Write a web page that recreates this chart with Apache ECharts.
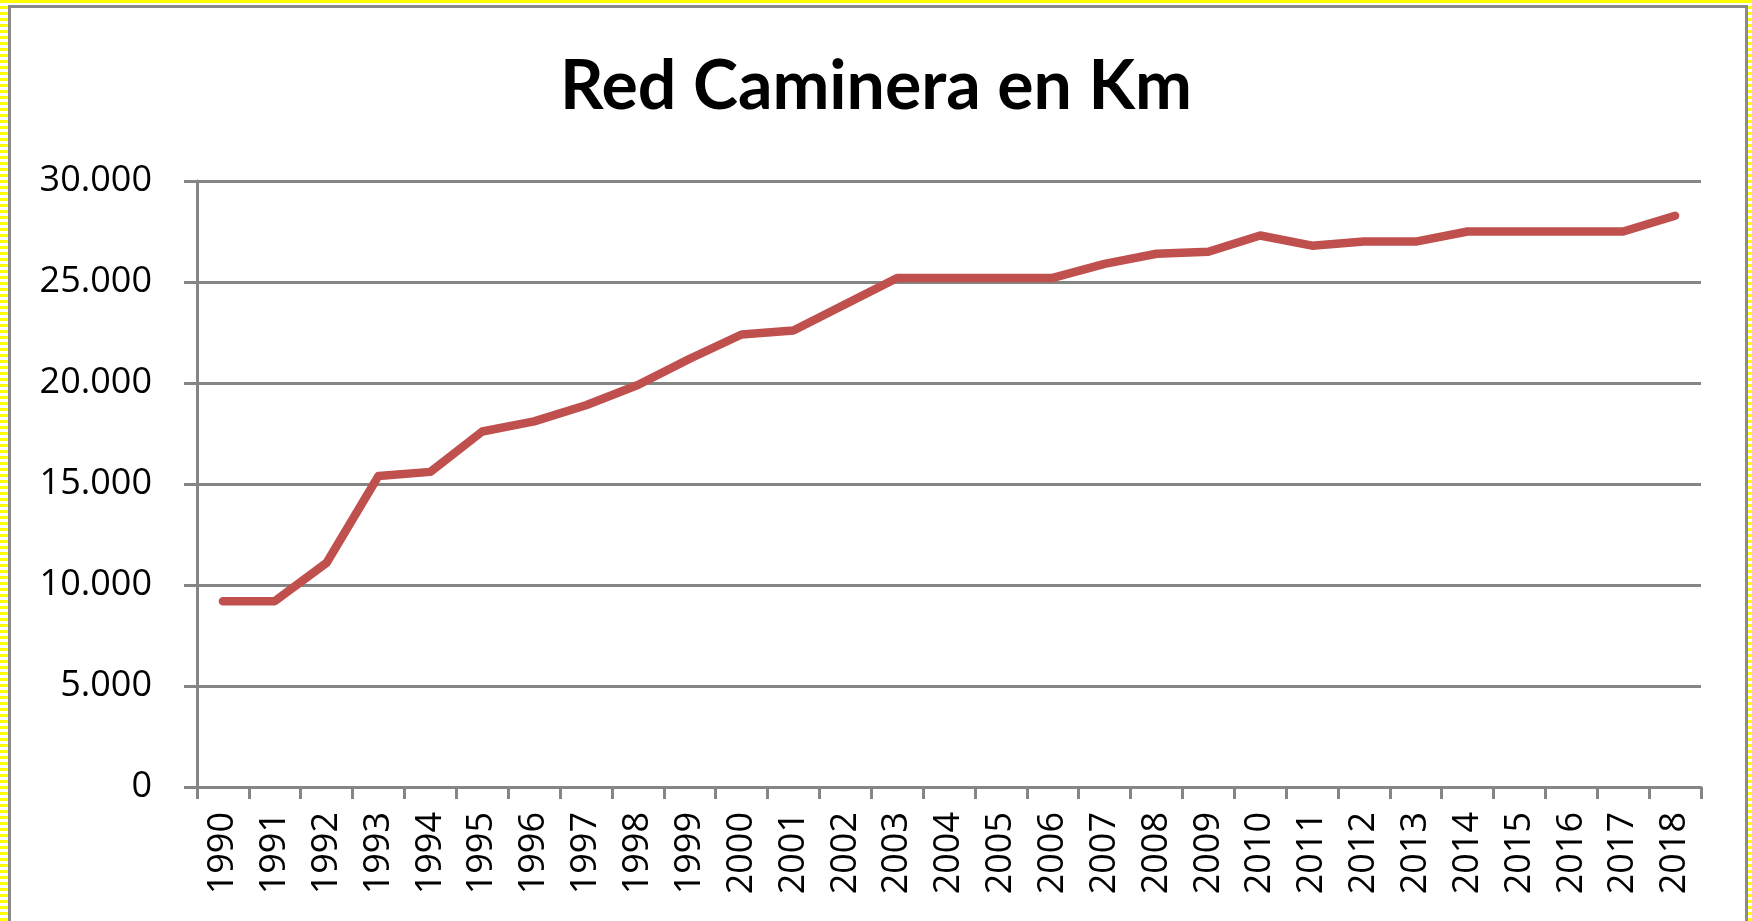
<!DOCTYPE html>
<html>
<head>
<meta charset="utf-8">
<script src="https://cdn.jsdelivr.net/npm/echarts@6/dist/echarts.min.js"></script>
<style>
    html, body{
        margin: 0;
        padding: 0;
        width: 1752px;
        height: 921px;
        overflow: hidden;
        background: repeating-linear-gradient(180deg, #ffff00 0px, #ffff00 3px, #ffffff 3px, #ffffff 6px);
    }
    .frame{
        position: absolute;
        left: 8px;
        top: 5px;
        width: 1734px;
        height: 930px;
        border: 3px solid #8a8a8a;
        background-color: white;
    }
    #chart{
        position: absolute;
        left: 0;
        top: 0;
        width: 1752px;
        height: 921px;
    }
</style>
</head>
<body>
<div class="frame"></div>
<div id="chart"></div>
<script>
    var years = ['1990', '1991', '1992', '1993', '1994', '1995', '1996', '1997', '1998', '1999',
        '2000', '2001', '2002', '2003', '2004', '2005', '2006', '2007', '2008', '2009',
        '2010', '2011', '2012', '2013', '2014', '2015', '2016', '2017', '2018'];
    var kmValues = [9200, 9200, 11100, 15400, 15600, 17600, 18100, 18900, 19900, 21200,
        22400, 22600, 23900, 25200, 25200, 25200, 25200, 25900, 26400, 26500,
        27300, 26800, 27000, 27000, 27500, 27500, 27500, 27500, 28280];
    var yTicks = [0, 5000, 10000, 15000, 20000, 25000, 30000];

    var myChart = echarts.init(document.getElementById('chart'), null, {renderer: 'canvas'});
    var gridColor = '#858585';
    var option = {
        animation: false,
        title: {
            text: 'Red Caminera en Km',
            left: 'center',
            top: 48,
            textStyle: {
                fontFamily: 'Lato',
                fontWeight: 'bold',
                fontSize: 68,
                color: '#000'
            }
        },
        grid: {
            left: 197,
            right: 51,
            top: 181,
            bottom: 134
        },
        xAxis: {
            type: 'category',
            data: years,
            boundaryGap: true,
            axisLine: {lineStyle: {color: gridColor, width: 3}},
            axisTick: {show: true, interval: 0, length: 12, lineStyle: {color: gridColor, width: 3}},
            axisLabel: {
                interval: 0,
                rotate: 90,
                margin: 25,
                fontFamily: 'Open Sans',
                fontSize: 36,
                color: '#000'
            }
        },
        yAxis: {
            type: 'value',
            min: yTicks[0],
            max: yTicks[yTicks.length - 1],
            interval: 5000,
            axisLine: {show: true, lineStyle: {color: gridColor, width: 3}},
            axisTick: {show: true, length: 13, lineStyle: {color: gridColor, width: 3}},
            splitLine: {lineStyle: {color: gridColor, width: 3}},
            axisLabel: {
                margin: 45,
                fontFamily: 'Open Sans',
                fontSize: 36,
                color: '#000',
                formatter: function (v) {
                    return v === 0 ? '0' : String(v).replace(/\B(?=(\d{3})+(?!\d))/g, '.');
                }
            }
        },
        series: [{
            type: 'line',
            data: kmValues,
            symbol: 'none',
            lineStyle: {color: '#C0504D', width: 8.5, cap: 'round', join: 'round'}
        }]
    };
    myChart.setOption(option);
</script>
</body>
</html>
